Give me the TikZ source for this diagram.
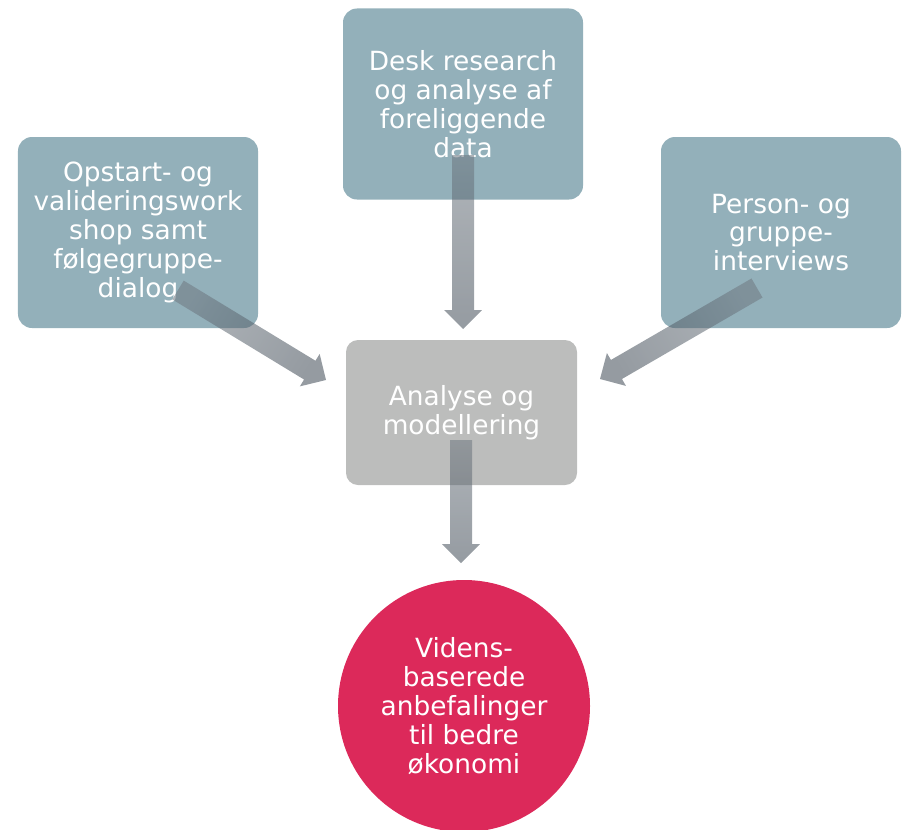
\documentclass[tikz,border=0pt]{standalone}
\usepackage{fontspec}
\setmainfont{DejaVu Sans}
\usetikzlibrary{calc}

\definecolor{tealbox}{RGB}{147,176,186}
\definecolor{graybox}{RGB}{188,189,188}
\definecolor{rosecircle}{RGB}{220,41,90}
\definecolor{arrowtop}{RGB}{111,120,129}
\definecolor{arrowbot}{RGB}{62,73,84}

% block arrow from #1 to #2, shading angle #3
\newcommand\fatarrow[3]{%
  \shade[top color=arrowtop, bottom color=arrowbot, shading angle=#3, fill opacity=0.55]
    ($(#1)!11bp!90:(#2)$)
    -- ($($(#2)!19bp!(#1)$)!11bp!-90:(#1)$)
    -- ($($(#2)!19bp!(#1)$)!19bp!-90:(#1)$)
    -- (#2)
    -- ($($(#2)!19bp!(#1)$)!19bp!90:(#1)$)
    -- ($($(#2)!19bp!(#1)$)!11bp!90:(#1)$)
    -- ($(#1)!11bp!-90:(#2)$) -- cycle;}

\begin{document}
\begin{tikzpicture}[
    x=1bp, y=-1bp,
    txt/.style={text=white, align=center, font=\fontsize{26.5}{29}\selectfont},
    source/.style={txt, rectangle, fill=tealbox, rounded corners=14bp,
                   minimum width=240bp, minimum height=191bp, inner sep=0pt},
    work/.style={txt, rectangle, fill=graybox, rounded corners=12bp,
                 minimum width=231bp, minimum height=145bp, inner sep=0pt},
    result/.style={txt, circle, fill=rosecircle, minimum size=252bp, inner sep=0pt},
]
\useasboundingbox (0,0) rectangle (905,830);

% Sources
\node[source] (desk) at (463,104) {Desk research\\og analyse af\\foreliggende\\data};
\node[source] (workshop) at (138,232.5) {Opstart- og\\valideringswork\\shop samt\\følgegruppe-\\dialog};
\node[source] (interview) at (781,232.5) {Person- og\\gruppe-\\interviews};

% Analysis and result
\node[work] (analyse) at (461.5,412.5) {Analyse og\\modellering};
\node[result] (result) at (464,706) {Videns-\\baserede\\anbefalinger\\til bedre\\økonomi};

% Arrow ends
\coordinate (desk-from) at (463,155);
\coordinate (desk-to) at (463,329);
\coordinate (workshop-from) at (178,290);
\coordinate (workshop-to) at (326,380);
\coordinate (interview-from) at (757,288);
\coordinate (interview-to) at (600,379);
\coordinate (analyse-from) at (461,440);
\coordinate (analyse-to) at (461,563);

% Arrows
\fatarrow{desk-from}{desk-to}{0}
\fatarrow{workshop-from}{workshop-to}{58}
\fatarrow{interview-from}{interview-to}{-60}
\fatarrow{analyse-from}{analyse-to}{0}

\end{tikzpicture}
\end{document}
